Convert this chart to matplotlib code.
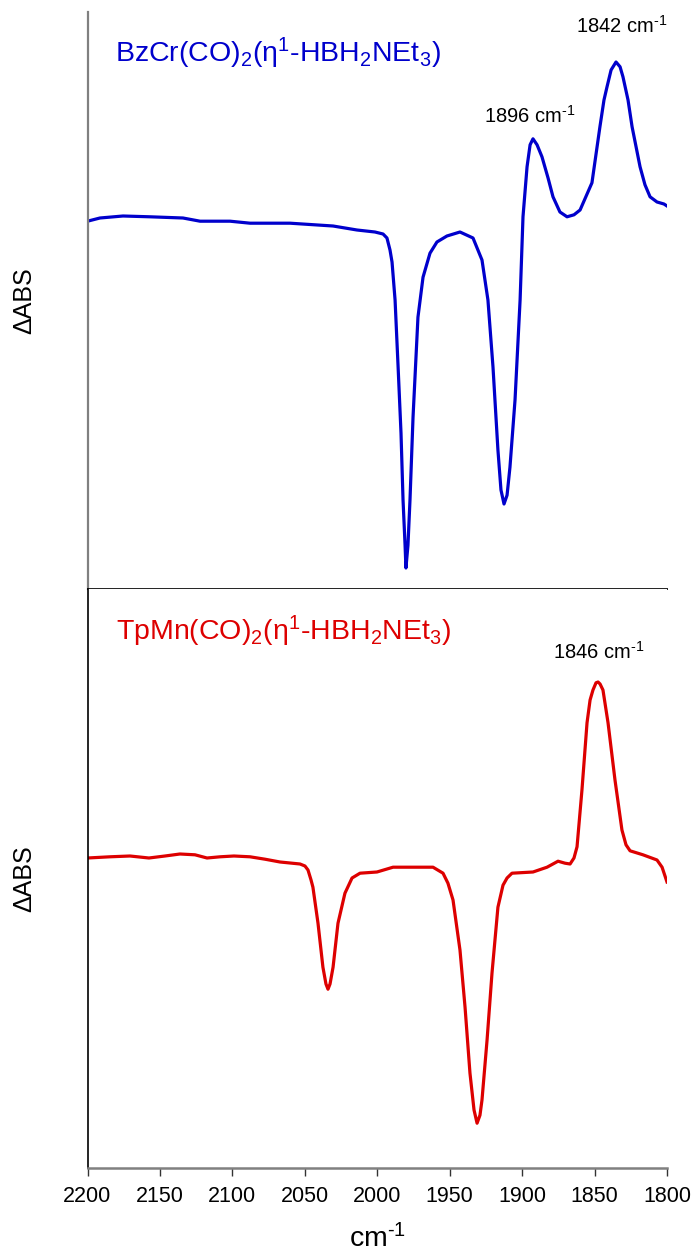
import matplotlib
matplotlib.use("Agg")
import matplotlib.pyplot as plt

plt.rcParams['font.family'] = ['Liberation Sans', 'DejaVu Sans']
plt.rcParams['mathtext.fontset'] = 'custom'
plt.rcParams['mathtext.rm'] = 'Liberation Sans'
plt.rcParams['mathtext.it'] = 'Liberation Sans'
plt.rcParams['mathtext.bf'] = 'Liberation Sans:bold'
plt.rcParams['mathtext.default'] = 'regular'

# ---- data (wavenumber in cm-1, arbitrary delta absorbance units) ----
cr_wn = [2200, 2191.4, 2175.5, 2156.9, 2134.1, 2122.3, 2101.6, 2087.8, 2060.2, 2030.5,
         2014.0, 2001.6, 1996.0, 1993.3, 1991.2, 1989.8, 1987.7, 1985.6, 1983.6, 1982.2,
         1980.8, 1980.2, 1978.8, 1977.4, 1975.3, 1971.9, 1968.4, 1963.6, 1958.8, 1951.9,
         1942.9, 1933.9, 1927.7, 1923.6, 1920.1, 1916.7, 1914.6, 1912.5, 1910.4, 1908.4,
         1904.9, 1901.4, 1899.4, 1896.6, 1894.5, 1892.5, 1889.7, 1886.3, 1882.1, 1878.7,
         1873.9, 1869.0, 1864.2, 1860.0, 1851.8, 1846.3, 1843.5, 1841.4, 1838.6, 1835.2,
         1832.4, 1830.4, 1826.9, 1824.1, 1818.6, 1815.2, 1811.7, 1806.9, 1802.1, 1800.0]
cr_abs = [-0.008, 0.000, 0.005, 0.003, 0.000, -0.008, -0.008, -0.013, -0.013, -0.020,
          -0.030, -0.035, -0.040, -0.050, -0.080, -0.110, -0.205, -0.373, -0.538, -0.705,
          -0.818, -0.875, -0.818, -0.705, -0.498, -0.248, -0.148, -0.088, -0.060, -0.045,
          -0.035, -0.050, -0.105, -0.205, -0.373, -0.580, -0.680, -0.715, -0.693, -0.623,
          -0.455, -0.205, 0.003, 0.128, 0.183, 0.198, 0.183, 0.153, 0.100, 0.053,
          0.015, 0.003, 0.008, 0.020, 0.088, 0.228, 0.295, 0.328, 0.370, 0.390,
          0.378, 0.353, 0.295, 0.228, 0.128, 0.083, 0.053, 0.040, 0.035, 0.030]

mn_wn = [2200, 2184.5, 2170.7, 2157.6, 2146.5, 2136.2, 2125.8, 2117.5, 2108.5, 2098.9,
         2087.8, 2077.5, 2067.1, 2053.3, 2049.9, 2047.8, 2045.7, 2044.4, 2040.9, 2037.5,
         2035.4, 2034.0, 2032.6, 2030.5, 2027.1, 2022.3, 2017.4, 2011.9, 2000.2, 1989.1,
         1975.3, 1961.5, 1954.6, 1951.2, 1947.7, 1942.9, 1939.4, 1936.0, 1933.2, 1931.1,
         1929.1, 1927.7, 1924.2, 1920.8, 1916.7, 1913.2, 1910.4, 1907.0, 1892.5, 1882.8,
         1875.2, 1870.4, 1866.9, 1864.2, 1862.1, 1858.7, 1855.2, 1853.1, 1851.1, 1849.0,
         1847.6, 1846.2, 1844.2, 1840.7, 1835.9, 1831.1, 1828.3, 1825.5, 1816.6, 1806.9,
         1803.4, 1800.0]
mn_abs = [0.000, 0.003, 0.005, 0.000, 0.005, 0.010, 0.008, 0.000, 0.003, 0.005,
          0.003, -0.003, -0.010, -0.015, -0.020, -0.030, -0.055, -0.073, -0.163, -0.273,
          -0.315, -0.328, -0.315, -0.273, -0.163, -0.088, -0.050, -0.038, -0.035, -0.023,
          -0.023, -0.023, -0.038, -0.063, -0.105, -0.230, -0.373, -0.538, -0.630, -0.663,
          -0.643, -0.605, -0.455, -0.288, -0.123, -0.068, -0.050, -0.038, -0.035, -0.023,
          -0.008, -0.013, -0.015, 0.000, 0.028, 0.170, 0.338, 0.395, 0.420, 0.438,
          0.440, 0.435, 0.420, 0.338, 0.195, 0.070, 0.033, 0.018, 0.008, -0.005,
          -0.023, -0.060]

x_ticks = [2200, 2150, 2100, 2050, 2000, 1950, 1900, 1850, 1800]
HY = '\u2010'  # plain hyphen in superscripts (not a math minus)
cr_title = r'BzCr(CO)$_{2}$(η$^{1}$-HBH$_{2}$NEt$_{3}$)'
mn_title = r'TpMn(CO)$_{2}$(η$^{1}$-HBH$_{2}$NEt$_{3}$)'
cr_peaks = [(1862.8, 0.4625, '1842 cm$^{' + HY + '1}$'),
            (1926.3, 0.2375, '1896 cm$^{' + HY + '1}$')]
mn_peaks = [(1878.7, 0.4975, '1846 cm$^{' + HY + '1}$')]
x_label = 'cm$^{' + HY + '1}$'

# ---- figure ----
fig = plt.figure(figsize=(6.94, 12.57), dpi=100)
L, R = 87.5 / 694, 667 / 694
ysep = 1 - 589 / 1257
ax1 = fig.add_axes([L, ysep, R - L, (1 - 12 / 1257) - ysep])
ax2 = fig.add_axes([L, 1 - 1168 / 1257, R - L, ysep - (1 - 1168 / 1257)])

ax1.plot(cr_wn, cr_abs, color='#0000cc', lw=2.3, solid_joinstyle='round')
ax2.plot(mn_wn, mn_abs, color='#dd0000', lw=2.3, solid_joinstyle='round')

ax1.set_ylim(-0.9275, 0.515)
ax2.set_ylim(-0.775, 0.6725)
for ax in (ax1, ax2):
    ax.set_xlim(2200, 1800)
    ax.spines['top'].set_visible(False)
    ax.spines['right'].set_visible(False)
    ax.set_yticks([])

ax1.set_xticks([])
ax1.spines['left'].set_color('#808080')
ax1.spines['left'].set_linewidth(1.6)
ax1.spines['bottom'].set_color('#222222')
ax1.spines['bottom'].set_linewidth(1.4)

ax2.spines['left'].set_color('black')
ax2.spines['left'].set_linewidth(1.2)
ax2.spines['bottom'].set_color('#808080')
ax2.spines['bottom'].set_linewidth(1.8)
ax2.set_xticks(x_ticks)
ax2.set_xticklabels([str(t) for t in x_ticks], fontsize=15.5)
ax2.tick_params(axis='x', direction='out', length=6, width=1.0, color='#333333', pad=7)
ax2.set_xlabel(x_label, fontsize=20.5, labelpad=12)

ax1.text(0.0475, 0.913, cr_title, transform=ax1.transAxes, color='#0000cc',
         fontsize=20.5, ha='left', va='baseline')
ax2.text(0.05, 0.912, mn_title, transform=ax2.transAxes, color='#dd0000',
         fontsize=20.5, ha='left', va='baseline')

for wn, v, s in cr_peaks:
    ax1.text(wn, v, s, fontsize=14.5, ha='left', va='baseline', color='black')
for wn, v, s in mn_peaks:
    ax2.text(wn, v, s, fontsize=14.5, ha='left', va='baseline', color='black')

fig.text(24 / 694, 1 - 301 / 1257, 'ΔABS', rotation=90, fontsize=18, ha='center', va='center')
fig.text(24 / 694, 1 - 879 / 1257, 'ΔABS', rotation=90, fontsize=18, ha='center', va='center')

fig.savefig('out.png', dpi=100)
